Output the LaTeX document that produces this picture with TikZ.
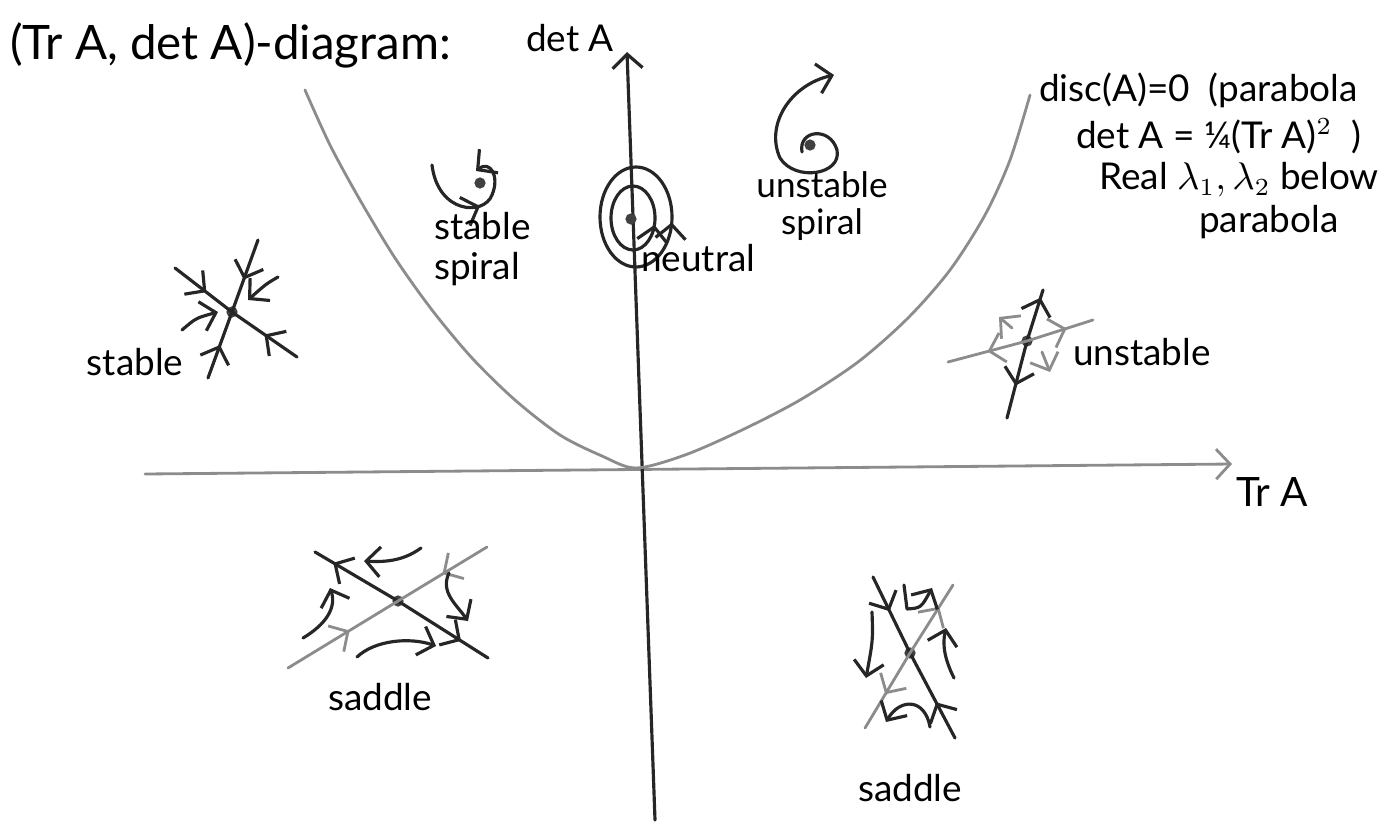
\documentclass[tikz,border=0pt]{standalone}
\usepackage{fontspec}
\setmainfont{Lato}
\usepackage{tikz}
\usetikzlibrary{arrows.meta,decorations.markings}

\begin{document}
\begin{tikzpicture}[
    x=0.01cm, y=-0.01cm,
    font=\fontsize{10.5}{11.5}\selectfont,
    pen/.style={line width=0.9pt, black!85, line cap=round, line join=round},
    pencil/.style={line width=0.8pt, black!45, line cap=round, line join=round},
    fp/.style={circle, fill=black!75, inner sep=0pt, minimum size=3.2pt},
    tip/.style={-{Straight Barb[length=1.4mm, width=3mm]}},
    marr/.style={postaction={decorate}, decoration={markings, mark=at position #1 with {\arrow{Straight Barb[length=1.4mm, width=3mm]}}}},
    rarr/.style={postaction={decorate}, decoration={markings, mark=at position #1 with {\arrowreversed{Straight Barb[length=1.4mm, width=3mm]}}}},
    lbl/.style={inner sep=1pt, align=center},
]
    \useasboundingbox (0,0) rectangle (1400,824);

    % axes
    \coordinate (xl) at (145,474);
    \coordinate (xr) at (1232,464);
    \coordinate (yb) at (655,820);
    \coordinate (yt) at (627,52);
    \draw[pencil, tip] (xl) -- (xr);
    \draw[pen, tip] (yb) -- (yt);
    \node[lbl, anchor=east] (lblDet) at (618,38) {det A};
    \node[lbl, font=\fontsize{11.5}{13}\selectfont] (lblTr) at (1272,492) {Tr A};

    % parabola disc(A)=0
    \draw[pencil] plot[smooth] coordinates {(305,90) (330,145) (360,200) (395,258) (432,310) (472,358) (515,400) (560,435) (602,456) (636,468) (685,455) (742,430) (800,400) (858,362) (908,318) (950,270) (985,215) (1010,160) (1030,95)};

    % texts
    \node[lbl, anchor=west, font=\fontsize{13.5}{15}\selectfont] (title) at (6,45) {(Tr A, det A)-diagram:};
    \node[lbl, anchor=west] (disc1) at (1035,90) {disc(A)=0 \ (parabola};
    \node[lbl, anchor=west] (disc2) at (1072,136) {det A = ¼(Tr A)$^2$ \ )};
    \node[lbl, anchor=west] (disc3) at (1095,180) {Real $\lambda_1,\lambda_2$ below};
    \node[lbl, anchor=west] (disc4) at (1195,222) {parabola};

    % stable spiral
    \node[fp] (ss) at (480,183) {};
    \draw[pen, tip, marr=0.55] (432,165) .. controls (438,214) and (484,216) .. (492,195) .. controls (500,176) and (490,160) .. (476,171);
    \node[lbl, align=left, anchor=north west] (lblSS) at (430,208) {stable\\spiral};

    % neutral center
    \node[fp] (nc) at (631,219) {};
    \draw[pen, rarr=0.04] (nc) ++(2,-1) ellipse [x radius=22, y radius=32];
    \draw[pen, rarr=0.02] (nc) ++(5,-2) ellipse [x radius=36, y radius=50];
    \node[lbl, anchor=west] (lblNeu) at (637,258) {neutral};

    % unstable spiral
    \node[fp] (us) at (810,145) {};
    \draw[pen, tip] (802,152) .. controls (798,130) and (830,126) .. (837,150) .. controls (842,175) and (795,182) .. (780,158) .. controls (765,125) and (790,85) .. (834,75);
    \node[lbl, font=\fontsize{10}{10.5}\selectfont] (lblUS) at (822,206) {unstable\\spiral};

    % stable node
    \node[fp] (sn) at (232,312) {};
    \draw[pen, marr=0.55] (258,240) -- (sn.center);
    \draw[pen, marr=0.5] (208,378) -- (sn.center);
    \draw[pen, marr=0.55] (175,268) -- (sn.center);
    \draw[pen, marr=0.5] (297,357) -- (sn.center);
    \draw[pen, tip] (278,277) .. controls (266,284) .. (248,300);
    \draw[pen, tip] (182,330) .. controls (196,318) .. (218,312);
    \node[lbl] (lblStable) at (135,362) {stable};

    % unstable node
    \node[fp] (un) at (1027,341) {};
    \draw[pen, marr=0.85] (un.center) -- (1043,290);
    \draw[pen, marr=0.58] (un.center) -- (1007,418);
    \draw[pencil, marr=0.5] (un.center) -- (948,362);
    \draw[pencil, marr=0.6] (un.center) -- (1093,320);
    \draw[pencil, tip] (1012,328) -- (999,317);
    \draw[pencil, tip] (1042,352) -- (1050,372);
    \node[lbl] (lblUnstable) at (1142,352) {unstable};

    % saddle, left
    \node[fp] (ls) at (398,601) {};
    \draw[pen, marr=0.78] (ls.center) -- (315,552);
    \draw[pen, marr=0.7] (ls.center) -- (488,658);
    \draw[pencil, marr=0.5] (487,547) -- (ls.center);
    \draw[pencil, marr=0.56] (288,668) -- (ls.center);
    \draw[pen, tip] (421,548) .. controls (402,562) and (382,562) .. (364,561);
    \draw[pen, tip] (303,638) .. controls (325,625) and (337,608) .. (330,588);
    \draw[pen, tip] (357,657) .. controls (375,640) and (410,637) .. (436,646);
    \draw[pen, tip] (449,573) .. controls (440,592) and (456,604) .. (468,621);
    \node[lbl] (lblSaddleL) at (380,697) {saddle};

    % saddle, right
    \node[fp] (rs) at (910,653) {};
    \draw[pen, marr=0.45] (873,577) -- (rs.center);
    \draw[pen, marr=0.42] (955,738) -- (rs.center);
    \draw[pencil, marr=0.68] (rs.center) -- (953,585);
    \draw[pencil, marr=0.55] (rs.center) -- (865,728);
    \draw[pen, tip] (872,612) .. controls (873,640) .. (866,678);
    \draw[pen, tip] (904,585) -- (907,609) .. controls (921,608) .. (932,588);
    \draw[pen, tip] (954,678) .. controls (945,660) and (942,645) .. (946,628);
    \draw[pen, tip] (930,727) .. controls (925,698) and (900,698) .. (886,722);
    \node[lbl] (lblSaddleR) at (910,788) {saddle};
\end{tikzpicture}
\end{document}
